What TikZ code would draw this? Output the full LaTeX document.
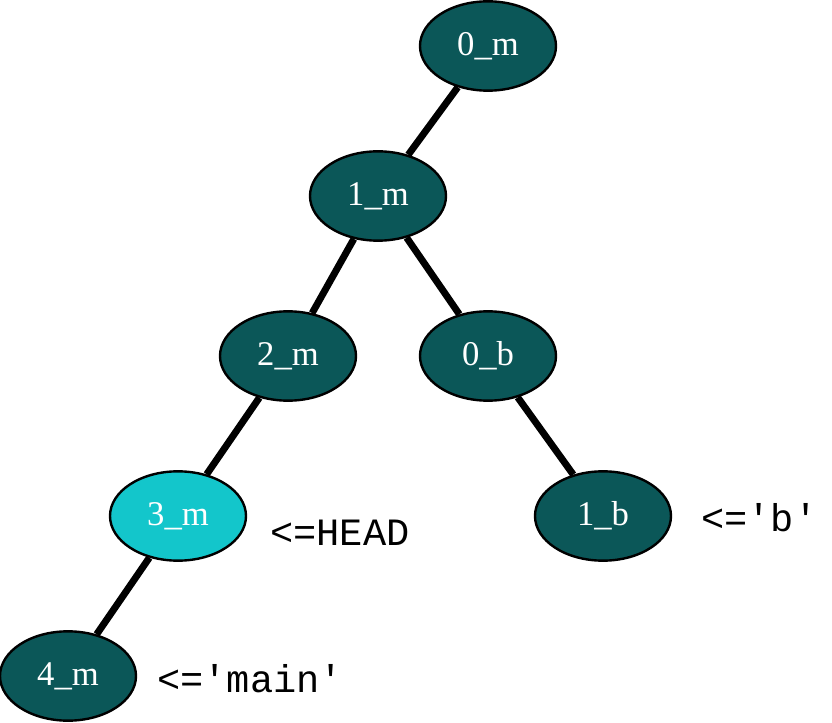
\documentclass[tikz,border=0pt]{standalone}
\usepackage{fontspec}
\setmainfont{Liberation Serif}
\newfontfamily\labelfont{Liberation Mono}
\usetikzlibrary{shapes.geometric}
\definecolor{commitdark}{RGB}{11,87,88}
\definecolor{commithead}{RGB}{19,198,203}
\tikzset{
  commit/.style={ellipse, draw=black, line width=1.8pt, fill=commitdark,
    minimum width=102pt, minimum height=67pt, inner sep=0pt,
    text=white, font=\fontsize{26}{30}\selectfont},
  headcommit/.style={commit, fill=commithead},
  parent/.style={line width=5.2pt, black},
  reflabel/.style={anchor=base west, inner sep=0pt,
    font=\labelfont\fontsize{29}{33}\selectfont}
}
\begin{document}
\begin{tikzpicture}[x=0.75pt,y=-0.75pt]
\useasboundingbox (0,0) rectangle (832,723);
% commits
\node[commit] (m0) at (488,46) {0\_m};
\node[commit] (m1) at (378,196) {1\_m};
\node[commit] (m2) at (288,356) {2\_m};
\node[commit] (b0) at (488,356) {0\_b};
\node[headcommit] (m3) at (178,516) {3\_m};
\node[commit] (b1) at (603,516) {1\_b};
\node[commit] (m4) at (68,676) {4\_m};
% history
\draw[parent] (m0) -- (m1);
\draw[parent] (m1) -- (m2);
\draw[parent] (m1) -- (b0);
\draw[parent] (m2) -- (m3);
\draw[parent] (b0) -- (b1);
\draw[parent] (m3) -- (m4);
% refs
\node[reflabel] (head) at (270,545) {<=HEAD};
\node[reflabel] (refb) at (701,532) {<='b'};
\node[reflabel] (refmain) at (157,692) {<='main'};
\end{tikzpicture}
\end{document}
